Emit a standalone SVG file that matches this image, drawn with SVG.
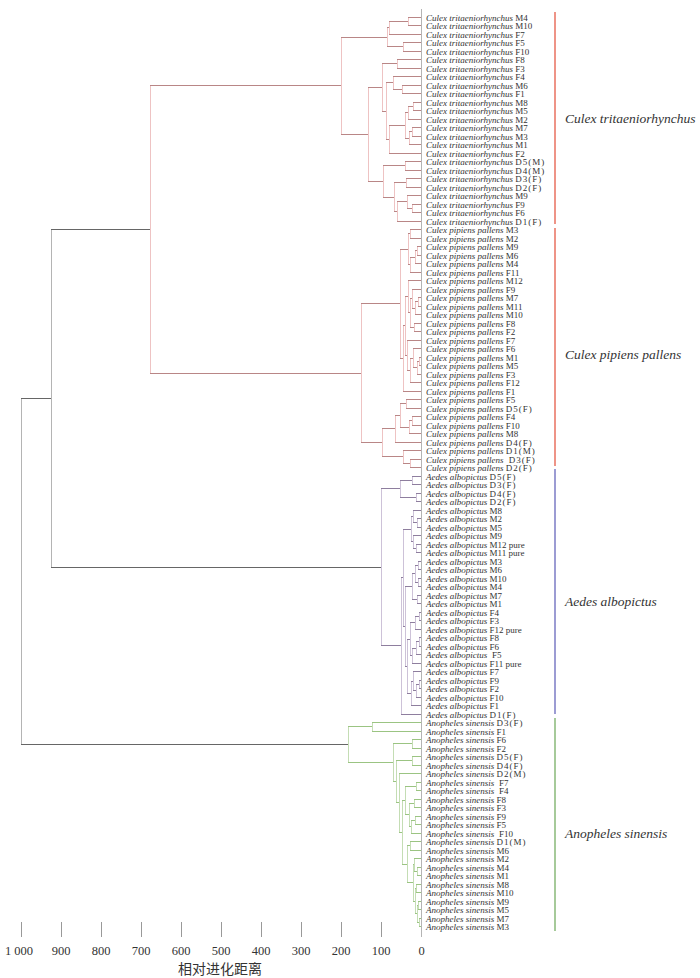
<svg xmlns="http://www.w3.org/2000/svg" width="700" height="978" viewBox="0 0 700 978">
<style>
.lb{font-family:"Liberation Serif","Times New Roman",serif;font-size:9px;fill:#333}
.it{font-style:italic}
.d{letter-spacing:1px}
.big{font-family:"Liberation Serif","Times New Roman",serif;font-size:13.5px;font-style:italic;fill:#333}
.tk{font-family:"Liberation Serif","Times New Roman",serif;font-size:12.5px;fill:#333;text-anchor:middle}
.ttl{font-family:"Noto Sans CJK SC","Noto Sans CJK JP",sans-serif;font-size:14px;fill:#333;text-anchor:middle}
path{fill:none;stroke-width:1}
.ch{stroke:#b98686}.cv{stroke:#eec3c3}
.ah{stroke:#8e7e9e}.av{stroke:#cdc2d8}
.nh{stroke:#9bc482}.nv{stroke:#c4ddb4}
.mh{stroke:#666}.mv{stroke:#b4b4b4}
.ax{stroke:#999}
</style>
<rect width="700" height="978" fill="#fff"/>
<g id="connectors" shape-rendering="crispEdges">
<path class="mv" d="M21,398.43V744.78 M51,229.55V567.31"/>
<path class="mh" d="M21,398.43H51 M21,744.78H348 M51,229.55H150 M51,567.31H381"/>
<path class="cv" d="M150,85.8V373.3 M408,17V25.5 M389,21.25V34 M403,42.5V51 M387,27.63V46.75 M397,59.5V68 M402,85V93.5 M393,76.5V89.25 M413,102V110.5 M408,106.25V119 M412,127.5V136 M409,131.75V144.5 M405,112.63V138.13 M389,125.38V153 M386,82.88V139.19 M382,63.75V111.03 M405,161.5V170 M406,178.5V187 M412,204V212.5 M407,195.5V208.25 M397,201.88V221 M394,182.75V211.44 M383,165.75V197.09 M368,87.39V181.42 M341,37.19V134.4
M410,229.5V238 M417,246.5V255 M415,250.75V263.5 M410,257.13V272 M408,233.75V264.56 M418,297.5V306 M415,301.75V314.5 M412,289V308.13 M414,323V331.5 M410,298.56V327.25 M408,280.5V312.9 M419,357V365.5 M417,361.25V374 M413,348.5V367.63 M410,358.06V382.5 M407,340V370.28 M405,296.7V355.14 M403,325.92V391 M400,249.16V358.46 M406,399.5V408 M412,416.5V425 M409,420.75V433.5 M400,403.75V427.13 M395,415.44V442 M410,459V467.5 M403,450.5V463.25 M382,428.72V456.88 M361,303.81V442.8"/>
<path class="ch" d="M150,85.8H341 M150,373.3H361
M408,17H421 M408,25.5H421 M389,21.25H408 M389,34H421 M403,42.5H421 M403,51H421 M387,27.63H389 M387,46.75H403 M397,59.5H421 M397,68H421 M402,85H421 M402,93.5H421 M393,76.5H421 M393,89.25H402 M413,102H421 M413,110.5H421 M408,106.25H413 M408,119H421 M412,127.5H421 M412,136H421 M409,131.75H412 M409,144.5H421 M405,112.63H408 M405,138.13H409 M389,125.38H405 M389,153H421 M386,82.88H393 M386,139.19H389 M382,63.75H397 M382,111.03H386 M405,161.5H421 M405,170H421 M406,178.5H421 M406,187H421 M412,204H421 M412,212.5H421 M407,195.5H421 M407,208.25H412 M397,201.88H407 M397,221H421 M394,182.75H406 M394,211.44H397 M383,165.75H405 M383,197.09H394 M368,87.39H382 M368,181.42H383 M341,37.19H387 M341,134.4H368
M410,229.5H421 M410,238H421 M417,246.5H421 M417,255H421 M415,250.75H417 M415,263.5H421 M410,257.13H415 M410,272H421 M408,233.75H410 M408,264.56H410 M418,297.5H421 M418,306H421 M415,301.75H418 M415,314.5H421 M412,289H421 M412,308.13H415 M414,323H421 M414,331.5H421 M410,298.56H412 M410,327.25H414 M408,280.5H421 M408,312.9H410 M419,357H421 M419,365.5H421 M417,361.25H419 M417,374H421 M413,348.5H421 M413,367.63H417 M410,358.06H413 M410,382.5H421 M407,340H421 M407,370.28H410 M405,296.7H408 M405,355.14H407 M403,325.92H405 M403,391H421 M400,249.16H408 M400,358.46H403 M406,399.5H421 M406,408H421 M412,416.5H421 M412,425H421 M409,420.75H412 M409,433.5H421 M400,403.75H406 M400,427.13H409 M395,415.44H400 M395,442H421 M410,459H421 M410,467.5H421 M403,450.5H421 M403,463.25H410 M382,428.72H395 M382,456.88H403 M361,303.81H400 M361,442.8H382"/>
<path class="av" d="M412,476V484.5 M416,493V501.5 M400,480.25V497.25 M417,518.5V527 M413,510V522.75 M416,544V552.5 M413,535.5V548.25 M411,516.38V541.88 M418,561V569.5 M418,578V586.5 M415,565.25V582.25 M417,595V603.5 M412,573.75V599.25 M419,612V620.5 M415,616.25V629 M419,637.5V646 M416,641.75V654.5 M412,648.13V663 M410,622.63V655.56 M419,680V688.5 M416,684.25V697 M413,671.5V690.63 M411,681.06V705.5 M407,639.09V693.28 M405,586.5V666.19 M403,529.13V626.34 M401,577.73V714 M381,488.75V645.87"/>
<path class="ah" d="M412,476H421 M412,484.5H421 M416,493H421 M416,501.5H421 M400,480.25H412 M400,497.25H416 M417,518.5H421 M417,527H421 M413,510H421 M413,522.75H417 M416,544H421 M416,552.5H421 M413,535.5H421 M413,548.25H416 M411,516.38H413 M411,541.88H413 M418,561H421 M418,569.5H421 M418,578H421 M418,586.5H421 M415,565.25H418 M415,582.25H418 M417,595H421 M417,603.5H421 M412,573.75H415 M412,599.25H417 M419,612H421 M419,620.5H421 M415,616.25H419 M415,629H421 M419,637.5H421 M419,646H421 M416,641.75H419 M416,654.5H421 M412,648.13H416 M412,663H421 M410,622.63H415 M410,655.56H412 M419,680H421 M419,688.5H421 M416,684.25H419 M416,697H421 M413,671.5H421 M413,690.63H416 M411,681.06H413 M411,705.5H421 M407,639.09H410 M407,693.28H411 M405,586.5H412 M405,666.19H407 M403,529.13H411 M403,626.34H405 M401,577.73H403 M401,714H421 M381,488.75H400 M381,645.87H401"/>
<path class="nv" d="M372,722.5V731 M412,739.5V748 M412,756.5V765 M416,782V790.5 M414,799V807.5 M415,816V824.5 M411,820.25V833 M409,803.25V826.63 M405,786.25V814.94 M410,841.5V850 M417,867V875.5 M414,858.5V871.25 M416,884V892.5 M418,901V909.5 M419,918V926.5 M417,905.25V922.25 M415,888.25V913.75 M413,864.88V901 M407,845.75V882.94 M402,800.59V864.34 M399,773.5V832.47 M396,760.75V802.98 M393,743.75V781.87 M348,726.75V762.81"/>
<path class="nh" d="M372,722.5H421 M372,731H421 M412,739.5H421 M412,748H421 M412,756.5H421 M412,765H421 M416,782H421 M416,790.5H421 M414,799H421 M414,807.5H421 M415,816H421 M415,824.5H421 M411,820.25H415 M411,833H421 M409,803.25H414 M409,826.63H411 M405,786.25H416 M405,814.94H409 M410,841.5H421 M410,850H421 M417,867H421 M417,875.5H421 M414,858.5H421 M414,871.25H417 M416,884H421 M416,892.5H421 M418,901H421 M418,909.5H421 M419,918H421 M419,926.5H421 M417,905.25H418 M417,922.25H419 M415,888.25H416 M415,913.75H417 M413,864.88H414 M413,901H415 M407,845.75H410 M407,882.94H413 M402,800.59H405 M402,864.34H407 M399,773.5H421 M399,832.47H402 M396,760.75H412 M396,802.98H399 M393,743.75H412 M393,781.87H396 M348,726.75H372 M348,762.81H393"/>
<path class="mv" d="M421,9V937"/>
</g>
<g id="axis" shape-rendering="crispEdges">
<path class="ax" d="M21,922V937 M61,922V937 M101,922V937 M141,922V937 M181,922V937 M221,922V937 M261,922V937 M301,922V937 M341,922V937 M381,922V937"/>
<text class="tk" x="19" y="955">1 000</text>
<text class="tk" x="61" y="955">900</text>
<text class="tk" x="101" y="955">800</text>
<text class="tk" x="141" y="955">700</text>
<text class="tk" x="181" y="955">600</text>
<text class="tk" x="221" y="955">500</text>
<text class="tk" x="261" y="955">400</text>
<text class="tk" x="301" y="955">300</text>
<text class="tk" x="341" y="955">200</text>
<text class="tk" x="381" y="955">100</text>
<text class="tk" x="421.5" y="955">0</text>
<text class="ttl" x="220" y="974">相对进化距离</text>
</g>
<g id="group-bars" stroke-width="1.5">
<line x1="555" y1="12" x2="555" y2="224" stroke="#e8705f"/>
<line x1="555" y1="228" x2="555" y2="466" stroke="#e8705f"/>
<line x1="555" y1="469" x2="555" y2="714" stroke="#7b7bc4"/>
<line x1="555" y1="718" x2="555" y2="931" stroke="#88b878"/>
</g>
<g id="label-culex-tritaeniorhynchus"><text class="big" x="565" y="123">Culex tritaeniorhynchus</text></g>
<g id="label-culex-pipiens-pallens"><text class="big" x="565" y="359">Culex pipiens pallens</text></g>
<g id="label-aedes-albopictus"><text class="big" x="565" y="606">Aedes albopictus</text></g>
<g id="label-anopheles-sinensis"><text class="big" x="565" y="838">Anopheles sinensis</text></g>
<g id="leaves" class="lb">
<g id="ct-M4"><text class="lb" x="426" y="20.5"><tspan class="it">Culex tritaeniorhynchus</tspan> M4</text></g>
<g id="ct-M10"><text class="lb" x="426" y="29"><tspan class="it">Culex tritaeniorhynchus</tspan> M10</text></g>
<g id="ct-F7"><text class="lb" x="426" y="37.5"><tspan class="it">Culex tritaeniorhynchus</tspan> F7</text></g>
<g id="ct-F5"><text class="lb" x="426" y="46"><tspan class="it">Culex tritaeniorhynchus</tspan> F5</text></g>
<g id="ct-F10"><text class="lb" x="426" y="54.5"><tspan class="it">Culex tritaeniorhynchus</tspan> F10</text></g>
<g id="ct-F8"><text class="lb" x="426" y="63"><tspan class="it">Culex tritaeniorhynchus</tspan> F8</text></g>
<g id="ct-F3"><text class="lb" x="426" y="71.5"><tspan class="it">Culex tritaeniorhynchus</tspan> F3</text></g>
<g id="ct-F4"><text class="lb" x="426" y="80"><tspan class="it">Culex tritaeniorhynchus</tspan> F4</text></g>
<g id="ct-M6"><text class="lb" x="426" y="88.5"><tspan class="it">Culex tritaeniorhynchus</tspan> M6</text></g>
<g id="ct-F1"><text class="lb" x="426" y="97"><tspan class="it">Culex tritaeniorhynchus</tspan> F1</text></g>
<g id="ct-M8"><text class="lb" x="426" y="105.5"><tspan class="it">Culex tritaeniorhynchus</tspan> M8</text></g>
<g id="ct-M5"><text class="lb" x="426" y="114"><tspan class="it">Culex tritaeniorhynchus</tspan> M5</text></g>
<g id="ct-M2"><text class="lb" x="426" y="122.5"><tspan class="it">Culex tritaeniorhynchus</tspan> M2</text></g>
<g id="ct-M7"><text class="lb" x="426" y="131"><tspan class="it">Culex tritaeniorhynchus</tspan> M7</text></g>
<g id="ct-M3"><text class="lb" x="426" y="139.5"><tspan class="it">Culex tritaeniorhynchus</tspan> M3</text></g>
<g id="ct-M1"><text class="lb" x="426" y="148"><tspan class="it">Culex tritaeniorhynchus</tspan> M1</text></g>
<g id="ct-F2"><text class="lb" x="426" y="156.5"><tspan class="it">Culex tritaeniorhynchus</tspan> F2</text></g>
<g id="ct-D5"><text class="lb" x="426" y="165"><tspan class="it">Culex tritaeniorhynchus</tspan> <tspan class="d">D5(M)</tspan></text></g>
<g id="ct-D4"><text class="lb" x="426" y="173.5"><tspan class="it">Culex tritaeniorhynchus</tspan> <tspan class="d">D4(M)</tspan></text></g>
<g id="ct-D3"><text class="lb" x="426" y="182"><tspan class="it">Culex tritaeniorhynchus</tspan> <tspan class="d">D3(F)</tspan></text></g>
<g id="ct-D2"><text class="lb" x="426" y="190.5"><tspan class="it">Culex tritaeniorhynchus</tspan> <tspan class="d">D2(F)</tspan></text></g>
<g id="ct-M9"><text class="lb" x="426" y="199"><tspan class="it">Culex tritaeniorhynchus</tspan> M9</text></g>
<g id="ct-F9"><text class="lb" x="426" y="207.5"><tspan class="it">Culex tritaeniorhynchus</tspan> F9</text></g>
<g id="ct-F6"><text class="lb" x="426" y="216"><tspan class="it">Culex tritaeniorhynchus</tspan> F6</text></g>
<g id="ct-D1"><text class="lb" x="426" y="224.5"><tspan class="it">Culex tritaeniorhynchus</tspan> <tspan class="d">D1(F)</tspan></text></g>
<g id="cp-M3"><text class="lb" x="426" y="233"><tspan class="it">Culex pipiens pallens</tspan> M3</text></g>
<g id="cp-M2"><text class="lb" x="426" y="241.5"><tspan class="it">Culex pipiens pallens</tspan> M2</text></g>
<g id="cp-M9"><text class="lb" x="426" y="250"><tspan class="it">Culex pipiens pallens</tspan> M9</text></g>
<g id="cp-M6"><text class="lb" x="426" y="258.5"><tspan class="it">Culex pipiens pallens</tspan> M6</text></g>
<g id="cp-M4"><text class="lb" x="426" y="267"><tspan class="it">Culex pipiens pallens</tspan> M4</text></g>
<g id="cp-F11"><text class="lb" x="426" y="275.5"><tspan class="it">Culex pipiens pallens</tspan> F11</text></g>
<g id="cp-M12"><text class="lb" x="426" y="284"><tspan class="it">Culex pipiens pallens</tspan> M12</text></g>
<g id="cp-F9"><text class="lb" x="426" y="292.5"><tspan class="it">Culex pipiens pallens</tspan> F9</text></g>
<g id="cp-M7"><text class="lb" x="426" y="301"><tspan class="it">Culex pipiens pallens</tspan> M7</text></g>
<g id="cp-M11"><text class="lb" x="426" y="309.5"><tspan class="it">Culex pipiens pallens</tspan> M11</text></g>
<g id="cp-M10"><text class="lb" x="426" y="318"><tspan class="it">Culex pipiens pallens</tspan> M10</text></g>
<g id="cp-F8"><text class="lb" x="426" y="326.5"><tspan class="it">Culex pipiens pallens</tspan> F8</text></g>
<g id="cp-F2"><text class="lb" x="426" y="335"><tspan class="it">Culex pipiens pallens</tspan> F2</text></g>
<g id="cp-F7"><text class="lb" x="426" y="343.5"><tspan class="it">Culex pipiens pallens</tspan> F7</text></g>
<g id="cp-F6"><text class="lb" x="426" y="352"><tspan class="it">Culex pipiens pallens</tspan> F6</text></g>
<g id="cp-M1"><text class="lb" x="426" y="360.5"><tspan class="it">Culex pipiens pallens</tspan> M1</text></g>
<g id="cp-M5"><text class="lb" x="426" y="369"><tspan class="it">Culex pipiens pallens</tspan> M5</text></g>
<g id="cp-F3"><text class="lb" x="426" y="377.5"><tspan class="it">Culex pipiens pallens</tspan> F3</text></g>
<g id="cp-F12"><text class="lb" x="426" y="386"><tspan class="it">Culex pipiens pallens</tspan> F12</text></g>
<g id="cp-F1"><text class="lb" x="426" y="394.5"><tspan class="it">Culex pipiens pallens</tspan> F1</text></g>
<g id="cp-F5"><text class="lb" x="426" y="403"><tspan class="it">Culex pipiens pallens</tspan> F5</text></g>
<g id="cp-D5"><text class="lb" x="426" y="411.5"><tspan class="it">Culex pipiens pallens</tspan> <tspan class="d">D5(F)</tspan></text></g>
<g id="cp-F4"><text class="lb" x="426" y="420"><tspan class="it">Culex pipiens pallens</tspan> F4</text></g>
<g id="cp-F10"><text class="lb" x="426" y="428.5"><tspan class="it">Culex pipiens pallens</tspan> F10</text></g>
<g id="cp-M8"><text class="lb" x="426" y="437"><tspan class="it">Culex pipiens pallens</tspan> M8</text></g>
<g id="cp-D4"><text class="lb" x="426" y="445.5"><tspan class="it">Culex pipiens pallens</tspan> <tspan class="d">D4(F)</tspan></text></g>
<g id="cp-D1"><text class="lb" x="426" y="454"><tspan class="it">Culex pipiens pallens</tspan> <tspan class="d">D1(M)</tspan></text></g>
<g id="cp-D3"><text class="lb" x="426" y="462.5"><tspan class="it">Culex pipiens pallens</tspan> <tspan class="d" dx="3">D3(F)</tspan></text></g>
<g id="cp-D2"><text class="lb" x="426" y="471"><tspan class="it">Culex pipiens pallens</tspan> <tspan class="d">D2(F)</tspan></text></g>
<g id="aa-D5"><text class="lb" x="426" y="479.5"><tspan class="it">Aedes albopictus</tspan> <tspan class="d">D5(F)</tspan></text></g>
<g id="aa-D3"><text class="lb" x="426" y="488"><tspan class="it">Aedes albopictus</tspan> <tspan class="d">D3(F)</tspan></text></g>
<g id="aa-D4"><text class="lb" x="426" y="496.5"><tspan class="it">Aedes albopictus</tspan> <tspan class="d">D4(F)</tspan></text></g>
<g id="aa-D2"><text class="lb" x="426" y="505"><tspan class="it">Aedes albopictus</tspan> <tspan class="d">D2(F)</tspan></text></g>
<g id="aa-M8"><text class="lb" x="426" y="513.5"><tspan class="it">Aedes albopictus</tspan> M8</text></g>
<g id="aa-M2"><text class="lb" x="426" y="522"><tspan class="it">Aedes albopictus</tspan> M2</text></g>
<g id="aa-M5"><text class="lb" x="426" y="530.5"><tspan class="it">Aedes albopictus</tspan> M5</text></g>
<g id="aa-M9"><text class="lb" x="426" y="539"><tspan class="it">Aedes albopictus</tspan> M9</text></g>
<g id="aa-M12"><text class="lb" x="426" y="547.5"><tspan class="it">Aedes albopictus</tspan> M12 pure</text></g>
<g id="aa-M11"><text class="lb" x="426" y="556"><tspan class="it">Aedes albopictus</tspan> M11 pure</text></g>
<g id="aa-M3"><text class="lb" x="426" y="564.5"><tspan class="it">Aedes albopictus</tspan> M3</text></g>
<g id="aa-M6"><text class="lb" x="426" y="573"><tspan class="it">Aedes albopictus</tspan> M6</text></g>
<g id="aa-M10"><text class="lb" x="426" y="581.5"><tspan class="it">Aedes albopictus</tspan> M10</text></g>
<g id="aa-M4"><text class="lb" x="426" y="590"><tspan class="it">Aedes albopictus</tspan> M4</text></g>
<g id="aa-M7"><text class="lb" x="426" y="598.5"><tspan class="it">Aedes albopictus</tspan> M7</text></g>
<g id="aa-M1"><text class="lb" x="426" y="607"><tspan class="it">Aedes albopictus</tspan> M1</text></g>
<g id="aa-F4"><text class="lb" x="426" y="615.5"><tspan class="it">Aedes albopictus</tspan> F4</text></g>
<g id="aa-F3"><text class="lb" x="426" y="624"><tspan class="it">Aedes albopictus</tspan> F3</text></g>
<g id="aa-F12"><text class="lb" x="426" y="632.5"><tspan class="it">Aedes albopictus</tspan> F12 pure</text></g>
<g id="aa-F8"><text class="lb" x="426" y="641"><tspan class="it">Aedes albopictus</tspan> F8</text></g>
<g id="aa-F6"><text class="lb" x="426" y="649.5"><tspan class="it">Aedes albopictus</tspan> F6</text></g>
<g id="aa-F5"><text class="lb" x="426" y="658"><tspan class="it">Aedes albopictus</tspan> <tspan dx="2.5">F5</tspan></text></g>
<g id="aa-F11"><text class="lb" x="426" y="666.5"><tspan class="it">Aedes albopictus</tspan> F11 pure</text></g>
<g id="aa-F7"><text class="lb" x="426" y="675"><tspan class="it">Aedes albopictus</tspan> F7</text></g>
<g id="aa-F9"><text class="lb" x="426" y="683.5"><tspan class="it">Aedes albopictus</tspan> F9</text></g>
<g id="aa-F2"><text class="lb" x="426" y="692"><tspan class="it">Aedes albopictus</tspan> F2</text></g>
<g id="aa-F10"><text class="lb" x="426" y="700.5"><tspan class="it">Aedes albopictus</tspan> F10</text></g>
<g id="aa-F1"><text class="lb" x="426" y="709"><tspan class="it">Aedes albopictus</tspan> F1</text></g>
<g id="aa-D1"><text class="lb" x="426" y="717.5"><tspan class="it">Aedes albopictus</tspan> <tspan class="d">D1(F)</tspan></text></g>
<g id="as-D3"><text class="lb" x="426" y="726"><tspan class="it">Anopheles sinensis</tspan> <tspan class="d">D3(F)</tspan></text></g>
<g id="as-F1"><text class="lb" x="426" y="734.5"><tspan class="it">Anopheles sinensis</tspan> F1</text></g>
<g id="as-F6"><text class="lb" x="426" y="743"><tspan class="it">Anopheles sinensis</tspan> F6</text></g>
<g id="as-F2"><text class="lb" x="426" y="751.5"><tspan class="it">Anopheles sinensis</tspan> F2</text></g>
<g id="as-D5"><text class="lb" x="426" y="760"><tspan class="it">Anopheles sinensis</tspan> <tspan class="d">D5(F)</tspan></text></g>
<g id="as-D4"><text class="lb" x="426" y="768.5"><tspan class="it">Anopheles sinensis</tspan> <tspan class="d">D4(F)</tspan></text></g>
<g id="as-D2"><text class="lb" x="426" y="777"><tspan class="it">Anopheles sinensis</tspan> <tspan class="d">D2(M)</tspan></text></g>
<g id="as-F7"><text class="lb" x="426" y="785.5"><tspan class="it">Anopheles sinensis</tspan> <tspan dx="2.5">F7</tspan></text></g>
<g id="as-F4"><text class="lb" x="426" y="794"><tspan class="it">Anopheles sinensis</tspan> <tspan dx="2.5">F4</tspan></text></g>
<g id="as-F8"><text class="lb" x="426" y="802.5"><tspan class="it">Anopheles sinensis</tspan> F8</text></g>
<g id="as-F3"><text class="lb" x="426" y="811"><tspan class="it">Anopheles sinensis</tspan> F3</text></g>
<g id="as-F9"><text class="lb" x="426" y="819.5"><tspan class="it">Anopheles sinensis</tspan> F9</text></g>
<g id="as-F5"><text class="lb" x="426" y="828"><tspan class="it">Anopheles sinensis</tspan> F5</text></g>
<g id="as-F10"><text class="lb" x="426" y="836.5"><tspan class="it">Anopheles sinensis</tspan> <tspan dx="2.5">F10</tspan></text></g>
<g id="as-D1"><text class="lb" x="426" y="845"><tspan class="it">Anopheles sinensis</tspan> <tspan class="d">D1(M)</tspan></text></g>
<g id="as-M6"><text class="lb" x="426" y="853.5"><tspan class="it">Anopheles sinensis</tspan> M6</text></g>
<g id="as-M2"><text class="lb" x="426" y="862"><tspan class="it">Anopheles sinensis</tspan> M2</text></g>
<g id="as-M4"><text class="lb" x="426" y="870.5"><tspan class="it">Anopheles sinensis</tspan> M4</text></g>
<g id="as-M1"><text class="lb" x="426" y="879"><tspan class="it">Anopheles sinensis</tspan> M1</text></g>
<g id="as-M8"><text class="lb" x="426" y="887.5"><tspan class="it">Anopheles sinensis</tspan> M8</text></g>
<g id="as-M10"><text class="lb" x="426" y="896"><tspan class="it">Anopheles sinensis</tspan> M10</text></g>
<g id="as-M9"><text class="lb" x="426" y="904.5"><tspan class="it">Anopheles sinensis</tspan> M9</text></g>
<g id="as-M5"><text class="lb" x="426" y="913"><tspan class="it">Anopheles sinensis</tspan> M5</text></g>
<g id="as-M7"><text class="lb" x="426" y="921.5"><tspan class="it">Anopheles sinensis</tspan> M7</text></g>
<g id="as-M3"><text class="lb" x="426" y="930"><tspan class="it">Anopheles sinensis</tspan> M3</text></g>
</g>
</svg>
